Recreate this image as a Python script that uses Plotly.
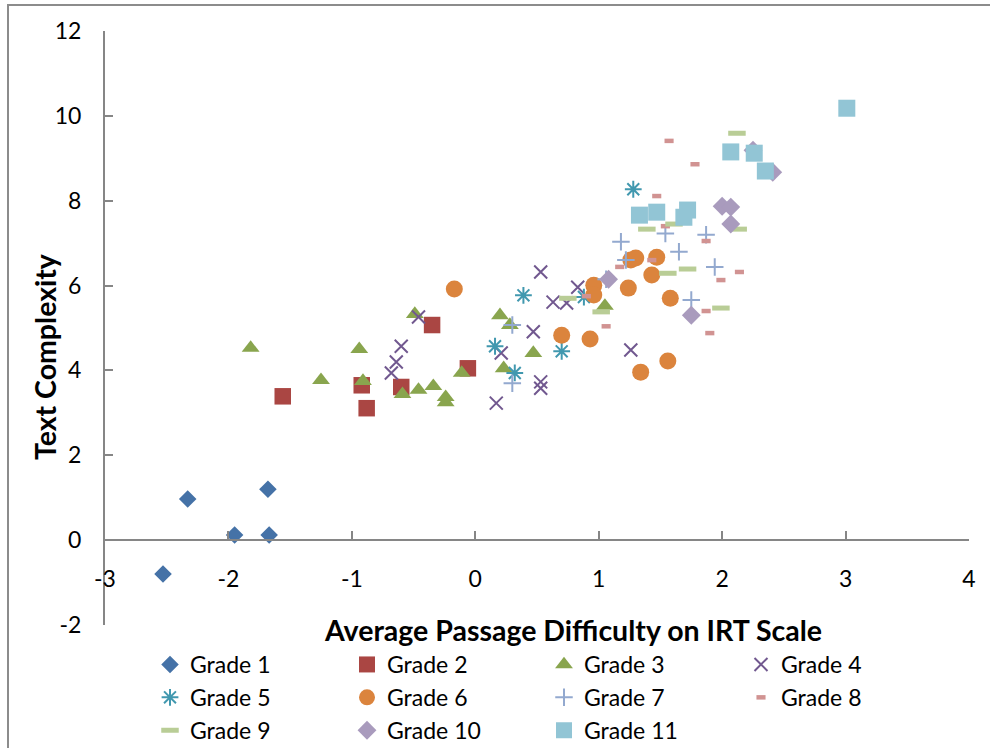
import plotly.graph_objects as go

# Average passage difficulty (IRT scale) and text complexity per grade
g1_x = [-2.53, -2.33, -1.95, -1.68, -1.67]
g1_y = [-0.80, 0.97, 0.12, 1.20, 0.12]

g2_x = [-1.56, -0.92, -0.88, -0.60, -0.35, -0.06]
g2_y = [3.39, 3.65, 3.11, 3.61, 5.07, 4.05]

g3_x = [-1.82, -1.25, -0.94, -0.91, -0.59, -0.46, -0.34, -0.24, -0.24, -0.49,
        -0.11, 0.20, 0.28, 0.23, 0.47, 1.05]
g3_y = [4.53, 3.77, 4.50, 3.75, 3.44, 3.54, 3.63, 3.37, 3.25, 5.33,
        3.94, 5.30, 5.07, 4.05, 4.41, 5.52]

g4_x = [0.53, -0.46, -0.60, -0.64, -0.68, 0.17, 0.21, 0.47, 0.53, 0.53,
        0.63, 0.74, 0.83, 1.26]
g4_y = [6.32, 5.26, 4.57, 4.20, 3.94, 3.23, 4.41, 4.91, 3.73, 3.58,
        5.61, 5.59, 5.96, 4.48]

g5_x = [0.39, 0.16, 0.32, 0.70, 0.88, 1.28]
g5_y = [5.77, 4.57, 3.94, 4.45, 5.73, 8.27]

g6_x = [-0.17, 0.70, 0.93, 0.96, 0.96, 1.24, 1.26, 1.30, 1.43, 1.47, 1.58, 1.34, 1.56]
g6_y = [5.92, 4.83, 4.74, 6.01, 5.78, 5.94, 6.60, 6.65, 6.25, 6.67, 5.70, 3.96, 4.22]

g7_x = [0.30, 0.30, 1.06, 1.18, 1.22, 1.54, 1.87, 1.65, 1.94, 1.75]
g7_y = [5.07, 3.70, 6.15, 7.03, 6.60, 7.23, 7.20, 6.80, 6.44, 5.66]

g8_x = [1.57, 1.78, 1.47, 1.54, 1.87, 1.17, 1.43, 0.90, 1.06, 1.99, 2.14, 1.87, 1.90]
g8_y = [9.41, 8.86, 8.11, 7.40, 7.05, 6.44, 6.60, 5.75, 5.04, 6.13, 6.32, 5.40, 4.88]

g9_x = [0.75, 1.02, 1.56, 1.72, 1.99, 1.39, 1.61, 2.12, 2.13]
g9_y = [5.70, 5.38, 6.29, 6.39, 5.47, 7.33, 7.45, 9.59, 7.33]

g10_x = [1.08, 1.75, 2.00, 2.07, 2.07, 2.41, 2.25]
g10_y = [6.15, 5.30, 7.87, 7.85, 7.45, 8.67, 9.19]

g11_x = [1.33, 1.47, 1.69, 1.72, 2.07, 2.26, 2.35, 3.01]
g11_y = [7.66, 7.73, 7.61, 7.78, 9.15, 9.12, 8.70, 10.18]

grades = ["Grade 1", "Grade 2", "Grade 3", "Grade 4", "Grade 5", "Grade 6",
          "Grade 7", "Grade 8", "Grade 9", "Grade 10", "Grade 11"]
xs = [g1_x, g2_x, g3_x, g4_x, g5_x, g6_x, g7_x, g8_x, g9_x, g10_x, g11_x]
ys = [g1_y, g2_y, g3_y, g4_y, g5_y, g6_y, g7_y, g8_y, g9_y, g10_y, g11_y]

x_ticks = [-3, -2, -1, 0, 1, 2, 3, 4]
x_tick_labels = ["-3", "-2", "-1", "0", "1", "2", "3", "4"]
y_ticks = [-2, 0, 2, 4, 6, 8, 10, 12]
y_tick_labels = ["-2", "0", "2", "4", "6", "8", "10", "12"]

# marker style per grade: (symbol, size, colour, line width)
styles = [
    ("diamond", 13.5, "#4572A7", 0),
    ("square", 16.5, "#AA4643", 0),
    ("triangle-up", 15.5, "#89A54E", 0),
    ("x-thin-open", 13, "#71588F", 2),
    ("asterisk-open", 14, "#4198AF", 2),
    ("circle", 17, "#DB843D", 0),
    ("cross-thin-open", 12.5, "#93A9CF", 2),
    ("line-ew-open", 6.5, "#D19392", 4.5),
    ("line-ew-open", 12.5, "#B9CD96", 5),
    ("diamond", 14.5, "#A99BBD", 0),
    ("square", 17, "#92C5D5", 0),
]

FONT = "Lato, Liberation Sans, sans-serif"

fig = go.Figure()
for name, x, y, (sym, size, col, lw) in zip(grades, xs, ys, styles):
    marker = dict(symbol=sym, size=size, color=col)
    if lw:
        marker["line"] = dict(color=col, width=lw)
    else:
        marker["line"] = dict(width=0)
    fig.add_trace(go.Scatter(x=x, y=y, mode="markers", name=name, marker=marker))

W, H = 990, 748
ml, mr, mt, mb = 105, 21, 31, 123
pw = W - ml - mr
ph = H - mt - mb

y_min, y_max = -2, 12
zero_frac = (0 - y_min) / (y_max - y_min)

fig.update_layout(
    width=W, height=H,
    margin=dict(l=ml, r=mr, t=mt, b=mb, autoexpand=False),
    paper_bgcolor="white", plot_bgcolor="white",
    font=dict(family=FONT, color="black"),
    showlegend=True,
    xaxis=dict(
        range=[-3, 4], tickvals=x_ticks, ticktext=x_tick_labels,
        showgrid=False, zeroline=False,
        showline=True, linecolor="#868686", linewidth=2,
        ticks="inside", ticklen=8, tickcolor="#868686", tickwidth=2,
        anchor="free", position=zero_frac,
        tickfont=dict(size=23, family=FONT),
        ticklabelstandoff=18, automargin=False,
    ),
    yaxis=dict(
        range=[y_min, y_max], tickvals=y_ticks, ticktext=y_tick_labels,
        showgrid=False, zeroline=False,
        showline=True, linecolor="#868686", linewidth=2,
        ticks="inside", ticklen=8, tickcolor="#868686", tickwidth=2,
        tickfont=dict(size=23, family=FONT),
        ticklabelstandoff=17, automargin=False,
    ),
    legend=dict(
        orientation="h", xref="container", yref="container",
        x=150 / W, xanchor="left",
        y=1 - 643 / H, yanchor="top",
        entrywidth=152, entrywidthmode="pixels",
        font=dict(size=23, family=FONT), itemsizing="trace",
        bgcolor="rgba(0,0,0,0)", tracegroupgap=0,
    ),
    annotations=[
        dict(text="<b>Average Passage Difficulty on IRT Scale</b>",
             xref="paper", yref="paper",
             x=(573 - ml) / pw, y=-(630 - (mt + ph)) / ph,
             xanchor="center", yanchor="middle", showarrow=False,
             font=dict(size=28.5, family=FONT)),
        dict(text="<b>Text Complexity</b>", textangle=-90,
             xref="paper", yref="paper",
             x=(45 - ml) / pw, y=1 - (357 - mt) / ph,
             xanchor="center", yanchor="middle", showarrow=False,
             font=dict(size=28.5, family=FONT)),
    ],
    shapes=[
        dict(type="rect", xref="paper", yref="paper", layer="below",
             x0=(8 - ml) / pw, x1=(W + 60 - ml) / pw,
             y0=-(H + 60 - (mt + ph)) / ph, y1=1 + (mt - 5) / ph,
             line=dict(color="#8C8C8C", width=2), fillcolor="rgba(0,0,0,0)"),
    ],
)

fig.write_html("out.html")
